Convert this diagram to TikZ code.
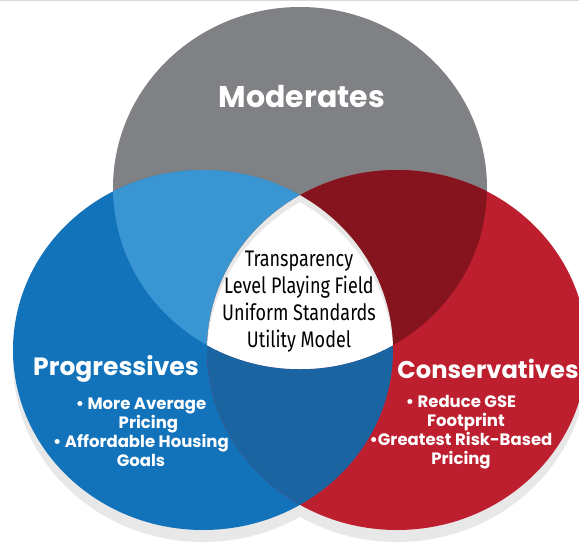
\documentclass[tikz,border=0pt]{standalone}
\usepackage{fontspec}
\setmainfont{Poppins}
\newfontfamily\condfont{Fira Sans}[FakeStretch=0.8]
\definecolor{cgray}{HTML}{808185}
\definecolor{cblue}{HTML}{1272BA}
\definecolor{cred}{HTML}{BD1F2F}
\definecolor{cgb}{HTML}{3A96D2}
\definecolor{cgr}{HTML}{85141F}
\definecolor{cbr}{HTML}{1A64A2}
\definecolor{cshadow}{HTML}{E8E8E8}
\definecolor{cline}{HTML}{D9D9D9}
\tikzset{
  title/.style={text=white, font=\bfseries\fontsize{25}{30}\selectfont, inner sep=0pt},
  bullets/.style={text=white, font=\bfseries\fontsize{16.5}{19}\selectfont, align=center, inner sep=0pt},
  center text/.style={text=black, font=\condfont\fontsize{22.5}{27}\selectfont, align=center, inner sep=0pt}
}
\begin{document}
\begin{tikzpicture}[x=1pt, y=-1pt]
\useasboundingbox (0,0) rectangle (579,542);
\clip (0,0) rectangle (579,542);
\fill[white] (0,0) rectangle (579,542);
\fill[cline] (0,0) rectangle (579,1.2);
% shadows
\fill[cshadow] (300,200) ellipse [x radius=187pt, y radius=181pt];
\fill[cshadow] (203,362) ellipse [x radius=190pt, y radius=180pt];
\fill[cshadow] (397,362) ellipse [x radius=190pt, y radius=180pt];
% circles
\fill[cgray] (300,188) ellipse [x radius=187pt, y radius=181pt];
\fill[cblue] (203,350) ellipse [x radius=190pt, y radius=180pt];
\fill[cred] (397,350) ellipse [x radius=190pt, y radius=180pt];
% blue & red
\begin{scope}
  \clip (203,350) ellipse [x radius=190pt, y radius=180pt];
  \fill[cbr] (397,350) ellipse [x radius=190pt, y radius=180pt];
\end{scope}
% gray & blue
\begin{scope}
  \clip (300,188) ellipse [x radius=187pt, y radius=181pt];
  \fill[cgb] (203,350) ellipse [x radius=190pt, y radius=180pt];
\end{scope}
% gray & red
\begin{scope}
  \clip (300,188) ellipse [x radius=187pt, y radius=181pt];
  \fill[cgr] (397,350) ellipse [x radius=190pt, y radius=180pt];
\end{scope}
% centre
\begin{scope}
  \clip (300,188) ellipse [x radius=187pt, y radius=181pt];
  \clip (203,350) ellipse [x radius=190pt, y radius=180pt];
  \clip (397,350) ellipse [x radius=190pt, y radius=180pt];
  \fill[cshadow] (0,0) rectangle (579,542);
  \clip (203,357) ellipse [x radius=190pt, y radius=180pt];
  \fill[white] (397,357) ellipse [x radius=190pt, y radius=180pt];
\end{scope}
% texts
\node[title, font=\bfseries\fontsize{30}{36}\selectfont] (moderates) at (302,97) {Moderates};
\node[title] (progressives) at (116,369) {Progressives};
\node[title, font=\bfseries\fontsize{24.2}{30}\selectfont] (conservatives) at (488,369) {Conservatives};
\node[bullets] (progitems) at (141,432) {• More Average\\\hspace*{0.9em}Pricing\\• Affordable Housing\\Goals};
\node[bullets] (consitems) at (461,432) {• Reduce GSE\\\hspace*{0.6em}Footprint\\•Greatest Risk-Based\\Pricing};
\node[center text] (shared) at (299,302) {Transparency\\Level Playing Field\\Uniform Standards\\Utility Model};
\end{tikzpicture}
\end{document}
